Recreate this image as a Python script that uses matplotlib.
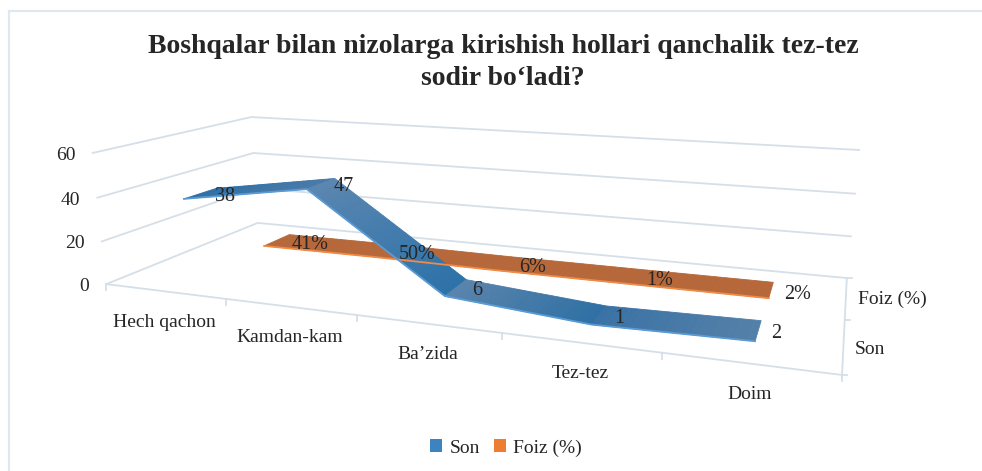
import numpy as np
import matplotlib
matplotlib.use("Agg")
import matplotlib.pyplot as plt
from matplotlib.colors import to_rgb
from matplotlib.patches import Patch, Polygon

# %% Data
title = "Boshqalar bilan nizolarga kirishish hollari qanchalik tez-tez\nsodir bo‘ladi?"
categories = ["Hech qachon", "Kamdan-kam", "Ba’zida", "Tez-tez", "Doim"]
son = [38, 47, 6, 1, 2]
foiz = [0.41, 0.50, 0.06, 0.01, 0.02]
foiz_labels = ["41%", "50%", "6%", "1%", "2%"]
value_ticks = [0, 20, 40, 60]

GRID = "#d5dfe8"
TEXT = "#262626"
FS = 14

# %% Perspective: (category, value, depth) -> pixel, fitted on the box corners
box = [(0, 0, 0), (5, 0, 0), (0, 0, 2), (5, 0, 2), (0, 60, 0), (0, 60, 2), (5, 60, 2)]
box_px = [(107, 284), (842, 375), (257, 223), (847, 278), (92, 153), (252, 117), (859, 150)]

rows = []
for (x, y, z), (u, v) in zip(box, box_px):
    rows.append([x, y, z, 1, 0, 0, 0, 0, -u*x, -u*y, -u*z, -u])
    rows.append([0, 0, 0, 0, x, y, z, 1, -v*x, -v*y, -v*z, -v])
P = np.linalg.svd(np.array(rows, dtype=float))[2][-1].reshape(3, 4)


def project(x, y, z):
    p = P @ np.array([x, y, z, 1.0])
    return p[0]/p[2], p[1]/p[2]


def ribbon(ax, values, z, half, shades, edge):
    xs = np.arange(len(values)) + 0.5
    for i in range(len(values)-1):
        c0, c1 = to_rgb(shades[i][0]), to_rgb(shades[i][1])
        n = 24
        for k in range(n):
            t0, t1 = k/n, (k+1)/n
            v0 = values[i]+(values[i+1]-values[i])*t0
            v1 = values[i]+(values[i+1]-values[i])*t1
            poly = [project(xs[i]+t0, v0, z-half), project(xs[i]+t1, v1, z-half),
                    project(xs[i]+t1, v1, z+half), project(xs[i]+t0, v0, z+half)]
            col = [a+(b-a)*(t0+t1)/2 for a, b in zip(c0, c1)]
            ax.add_patch(Polygon(poly, closed=True, fc=col, ec=col, lw=0.6, zorder=3))
    front = np.array([project(x, v, z-half) for x, v in zip(xs, values)])
    ax.plot(front[:, 0], front[:, 1], color=edge, lw=1.3, zorder=4)


# %% Figure
plt.rcParams['font.family'] = ['Liberation Serif', 'DejaVu Serif']
fig = plt.figure(figsize=(9.82, 4.71), dpi=100)
ax = fig.add_axes([0, 0, 1, 1])
ax.set_xlim(0, 982)
ax.set_ylim(471, 0)
ax.axis("off")

# chart frame
ax.plot([9, 9], [471, 11], color="#dfe7ef", lw=1.6)
ax.plot([9, 982], [11, 11], color="#dfe7ef", lw=1.6)

ax.text(503, 62.5, title, ha="center", va="center", fontsize=20, fontweight="bold",
        color=TEXT, linespacing=1.36)

# walls
for v in value_ticks:
    a, b, c = project(0, v, 0), project(0, v, 2), project(5, v, 2)
    ax.plot([a[0], b[0], c[0]], [a[1], b[1], c[1]], color=GRID, lw=1.3, zorder=1)
    ax.text(a[0]-17, a[1]+2.5, str(v), ha="right", va="center", fontsize=FS, color=TEXT)

# floor edges and ticks
a, b, c = project(0, 0, 0), project(5, 0, 0), project(5, 0, 2)
ax.plot([a[0], b[0], c[0]], [a[1], b[1], c[1]], color=GRID, lw=1.3, zorder=1)
for i in range(len(categories)+1):
    p = project(i, 0, 0)
    ax.plot([p[0], p[0]], [p[1], p[1]+6], color=GRID, lw=1.3, zorder=1)
for z in [0, 1, 2]:
    p = project(5, 0, z)
    ax.plot([p[0], p[0]+5], [p[1], p[1]], color=GRID, lw=1.3, zorder=1)

for i, name in enumerate(categories):
    p = project(i+0.5, 0, 0)
    ax.text(p[0], p[1]+31, name, ha="center", va="center", fontsize=FS, color=TEXT)

p = project(5, 0, 0.5)
ax.text(p[0]+11, p[1]+4, "Son", ha="left", va="center", fontsize=FS, color=TEXT)
p = project(5, 0, 1.5)
ax.text(p[0]+12, p[1]+2, "Foiz (%)", ha="left", va="center", fontsize=FS, color=TEXT)

# series
orange_shades = [("#b6683a", "#b6683a")]*4
blue_shades = [("#2e6fa6", "#4a7aa8"), ("#5b86b0", "#2c72a9"),
               ("#5a84ac", "#2f70a4"), ("#3a72a5", "#5480a8")]
ribbon(ax, foiz, 1.5, 0.2, orange_shades, "#f08a45")
ribbon(ax, son, 0.5, 0.2, blue_shades, "#5b9bd5")

# data labels
for i, (v, lab) in enumerate(zip(foiz, foiz_labels)):
    p = project(i+0.5, v, 1.5)
    ax.text(p[0]+33-1.7*i, p[1]+4, lab, ha="center", va="center", fontsize=14.5, color=TEXT, zorder=5)
for i, v in enumerate(son):
    p = project(i+0.5, v, 0.5)
    ax.text(p[0]+24-1.5*i, p[1]+3, str(v), ha="center", va="center", fontsize=14.5, color=TEXT, zorder=5)

handles = [Patch(fc="#3c83c0", ec="none", label="Son"), Patch(fc="#ed7d31", ec="none", label="Foiz (%)")]
ax.legend(handles=handles, loc="center", bbox_to_anchor=(506/982, 1-448/471), ncol=2, frameon=False,
          fontsize=FS, handlelength=0.62, handleheight=0.62, handletextpad=0.4, columnspacing=0.7,
          labelcolor=TEXT)

fig.savefig("out.png", dpi=100)
